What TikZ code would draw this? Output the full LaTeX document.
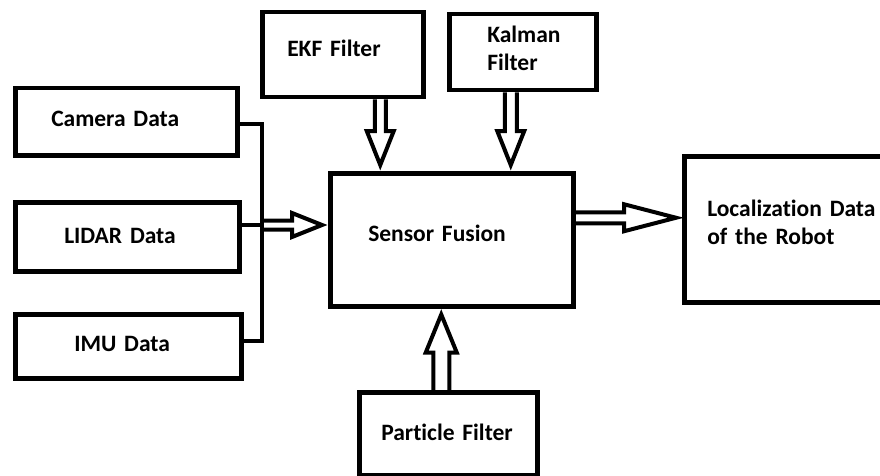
\documentclass[tikz,border=0pt]{standalone}
\usepackage{fontspec}
\setmainfont{Carlito}[Ligatures=NoCommon]
\usetikzlibrary{calc}
\tikzset{
  box/.style={draw, line width=4.5pt, anchor=north west, inner ysep=0pt, align=left,
    font=\fontsize{23.5}{28}\selectfont\bfseries},
  conn/.style={line width=4pt},
  barrow/.style={line width=4pt, line join=miter},
}
\newcommand\upby[2]{\raisebox{#1}[\height][\depth]{#2}}
\newcommand\twolines[2]{\begin{tabular}{@{}l@{}}#1\\#2\end{tabular}}
% hollow block arrow: #1 start, #2 tip, #3 shaft half width, #4 head half width, #5 head length
\newcommand\blockarr[5]{%
  \path ($(#2)!#5!(#1)$) coordinate (ba-base);
  \draw[barrow] ($(#1)!#3!90:(#2)$) -- ($(ba-base)!#3!90:(#2)$) -- ($(ba-base)!#4!90:(#2)$)
     -- (#2) -- ($(ba-base)!#4!-90:(#2)$) -- ($(ba-base)!#3!-90:(#2)$) -- ($(#1)!#3!-90:(#2)$);
}
\begin{document}
\begin{tikzpicture}[x=1pt, y=-1pt]
\useasboundingbox (0,0) rectangle (880,476);
\clip (0,0) rectangle (880,476);

% boxes
\node[box, minimum width=222pt, minimum height=67pt, inner xsep=36pt, text width=150pt] (cam) at (13,86) {\upby{3pt}{Camera Data}};
\node[box, minimum width=224pt, minimum height=69pt, inner xsep=49pt, text width=126pt] (lidar) at (13,200) {\upby{1pt}{LIDAR Data}};
\node[box, minimum width=226pt, minimum height=64pt, inner xsep=59pt, text width=108pt] (imu) at (13,312) {\upby{2pt}{IMU Data}};
\node[box, minimum width=161pt, minimum height=85pt, inner xsep=25pt, text width=111pt] (ekf) at (260,10) {\upby{6pt}{EKF Filter}};
\node[box, minimum width=147pt, minimum height=76pt, inner xsep=38pt, text width=71pt] (kalman) at (447,12) {\upby{1.5pt}{\twolines{Kalman}{Filter}}};
\node[box, minimum width=243pt, minimum height=133pt, inner xsep=38pt, text width=167pt] (fusion) at (328,171) {\upby{6pt}{Sensor Fusion}};
\node[box, minimum width=236pt, minimum height=146pt, inner xsep=23pt, text width=190pt] (loc) at (682,154) {\upby{4pt}{\twolines{Localization Data}{of the Robot}}};
\node[box, minimum width=178pt, minimum height=83pt, inner xsep=22pt, text width=134pt] (particle) at (357,390) {\upby{1pt}{Particle Filter}};

% sensor bus
\coordinate (c1) at (262,124);
\coordinate (c2) at (262,225);
\coordinate (c3) at (262,341);
\draw[conn] (cam.east |- c1) -- (c1) -- (c3) -- (imu.east |- c3);
\draw[conn] (lidar.east |- c2) -- (c2);

% arrow end points
\coordinate (inE) at ($(fusion.west |- c2)+(-6,0)$);
\coordinate (ekfS) at ($(ekf.south)+(37.5,0)$);
\coordinate (ekfE) at ($(ekfS |- fusion.north)+(0,-6)$);
\coordinate (kalS) at ($(kalman.south)+(-12,0)$);
\coordinate (kalE) at ($(kalS |- fusion.north)+(0,-6)$);
\coordinate (outS) at ($(fusion.east)+(0,-22)$);
\coordinate (outE) at ($(loc.west |- outS)+(-6,0)$);
\coordinate (parS) at ($(particle.north)+(-7,0)$);
\coordinate (parE) at ($(parS |- fusion.south)+(0,6)$);

% hollow arrows
\blockarr{c2}{inE}{4.5pt}{12pt}{30pt}
\blockarr{ekfS}{ekfE}{5.5pt}{13.5pt}{34pt}
\blockarr{kalS}{kalE}{6pt}{13.5pt}{34pt}
\blockarr{outS}{outE}{5.5pt}{13.5pt}{52pt}
\blockarr{parS}{parE}{8pt}{15.5pt}{38pt}
\end{tikzpicture}
\end{document}
